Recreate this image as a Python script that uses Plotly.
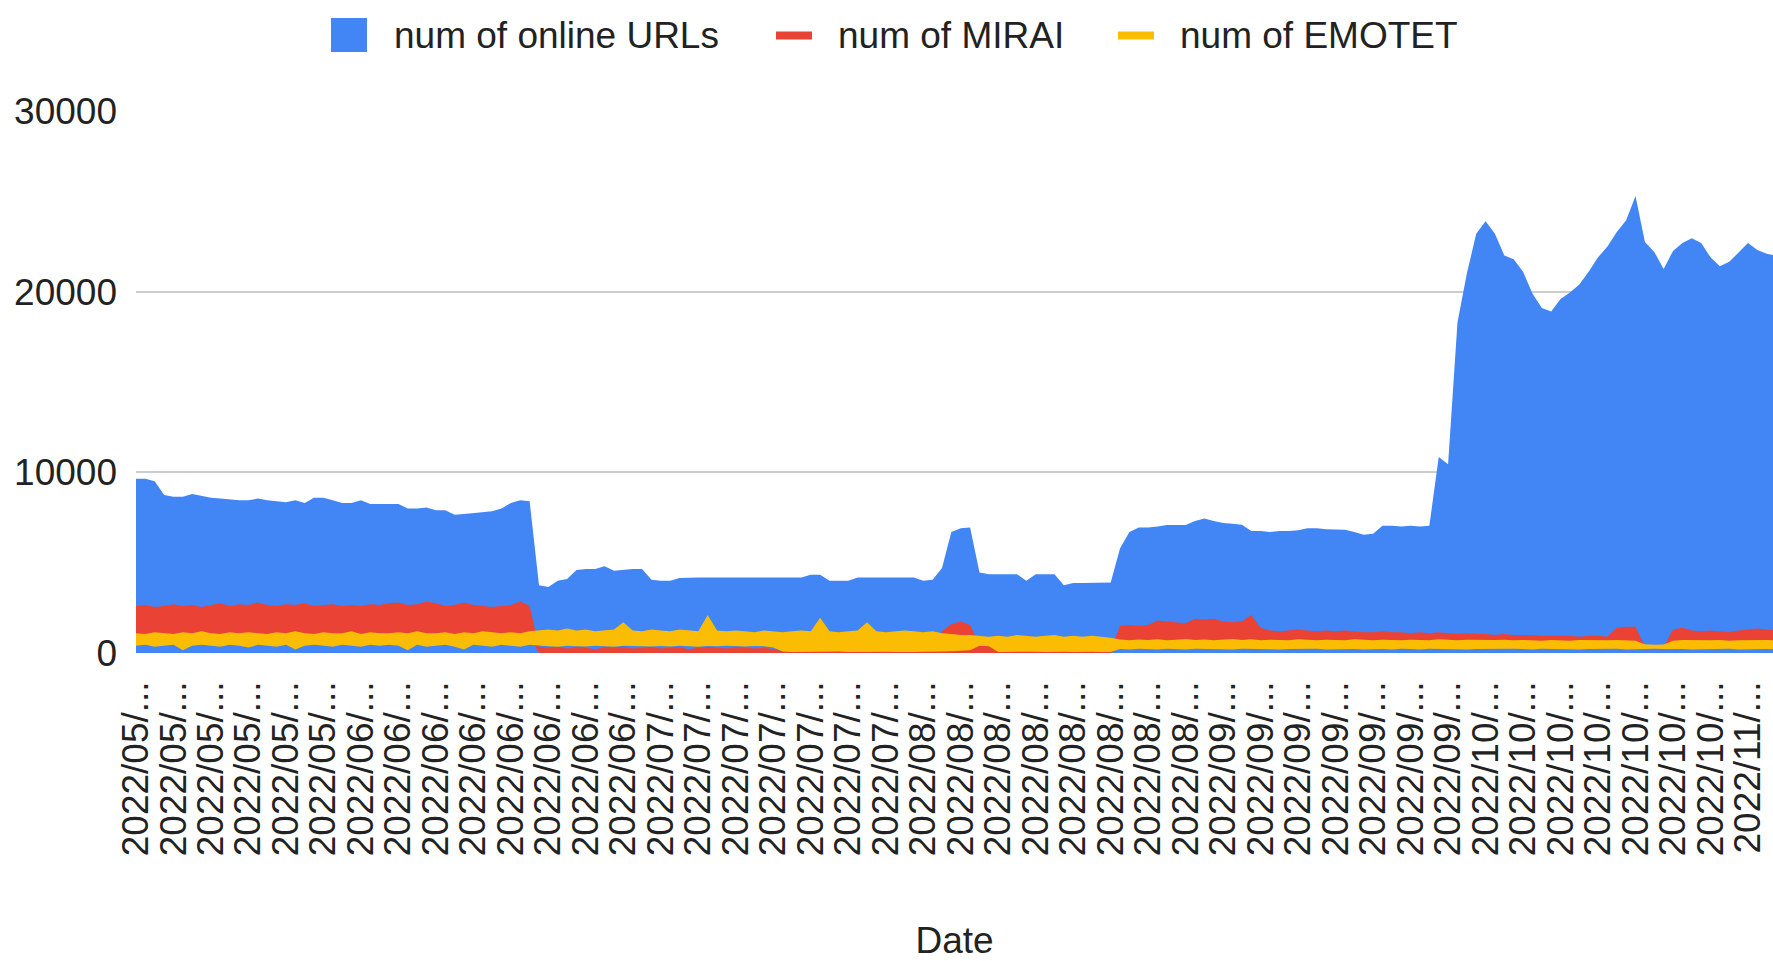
import plotly.graph_objects as go

# ---------------- data ----------------
# x-axis tick labels (one every 4 samples), as truncated in the original
tick_labels = [
    "2022/05/...", "2022/05/...", "2022/05/...", "2022/05/...", "2022/05/...", "2022/05/...",
    "2022/06/...", "2022/06/...", "2022/06/...", "2022/06/...", "2022/06/...", "2022/06/...",
    "2022/06/...", "2022/06/...",
    "2022/07/...", "2022/07/...", "2022/07/...", "2022/07/...", "2022/07/...", "2022/07/...",
    "2022/07/...",
    "2022/08/...", "2022/08/...", "2022/08/...", "2022/08/...", "2022/08/...", "2022/08/...",
    "2022/08/...", "2022/08/...",
    "2022/09/...", "2022/09/...", "2022/09/...", "2022/09/...", "2022/09/...", "2022/09/...",
    "2022/09/...",
    "2022/10/...", "2022/10/...", "2022/10/...", "2022/10/...", "2022/10/...", "2022/10/...",
    "2022/10/...",
    "2022/11/...",
]

online_urls = [
    9650, 9650, 9500, 8750,
    8650, 8650, 8800, 8700,
    8600, 8550, 8500, 8450,
    8450, 8550, 8450, 8400,
    8350, 8450, 8300, 8600,
    8600, 8450, 8300, 8300,
    8450, 8250, 8250, 8250,
    8250, 8000, 8000, 8050,
    7900, 7900, 7650, 7700,
    7750, 7800, 7850, 8000,
    8300, 8450, 8400, 3750,
    3650, 4000, 4100, 4600,
    4650, 4650, 4800, 4550,
    4600, 4650, 4650, 4050,
    4000, 4000, 4150, 4180,
    4180, 4180, 4180, 4180,
    4180, 4180, 4180, 4180,
    4180, 4180, 4180, 4180,
    4330, 4330, 4000, 4000,
    4000, 4180, 4180, 4180,
    4180, 4180, 4180, 4180,
    4000, 4050, 4700, 6700,
    6900, 6950, 4450, 4360,
    4360, 4360, 4360, 4000,
    4360, 4360, 4360, 3750,
    3870, 3870, 3870, 3870,
    3900, 5800, 6700, 6950,
    6950, 7000, 7090, 7090,
    7090, 7300, 7450, 7300,
    7200, 7150, 7100, 6750,
    6750, 6700, 6750, 6750,
    6800, 6900, 6900, 6850,
    6820, 6820, 6700, 6550,
    6600, 7040, 7040, 7000,
    7040, 7000, 7040, 10850,
    10450, 18300, 21000, 23200,
    23900, 23200, 22000, 21800,
    21100, 19900, 19100, 18900,
    19600, 19950, 20400, 21100,
    21900, 22500, 23300, 23950,
    25300, 22750, 22200, 21250,
    22250, 22700, 22950, 22700,
    21900, 21400, 21650, 22200,
    22700, 22300, 22100, 22000,
]

# MIRAI: the line swings quickly, drawn as a band between its low and high values
mirai_high = [
    2600, 2650, 2550, 2600,
    2700, 2600, 2650, 2550,
    2650, 2750, 2600, 2700,
    2650, 2800, 2650, 2600,
    2700, 2650, 2750, 2600,
    2650, 2700, 2600, 2650,
    2600, 2700, 2650, 2750,
    2800, 2650, 2700, 2850,
    2750, 2600, 2650, 2800,
    2650, 2600, 2550, 2600,
    2650, 2850, 2600, 350,
    300, 350, 250, 350,
    300, 200, 350, 300,
    350, 250, 300, 350,
    250, 300, 350, 200,
    300, 350, 300, 250,
    350, 300, 250, 300,
    200, 100, 80, 100,
    80, 100, 80, 120,
    100, 80, 100, 80,
    100, 120, 80, 100,
    100, 150, 1200, 1600,
    1750, 1550, 450, 400,
    150, 100, 120, 100,
    100, 150, 100, 120,
    100, 120, 150, 100,
    200, 1500, 1550, 1500,
    1550, 1800, 1750, 1700,
    1650, 1900, 1850, 1900,
    1750, 1700, 1750, 2100,
    1400, 1250, 1200, 1250,
    1300, 1250, 1200, 1250,
    1200, 1250, 1200, 1150,
    1150, 1200, 1150, 1150,
    1100, 1150, 1100, 1150,
    1100, 1050, 1100, 1050,
    1050, 1000, 1050, 1000,
    1000, 1000, 950, 950,
    950, 950, 900, 950,
    950, 900, 1400, 1450,
    1450, 350, 350, 350,
    1300, 1400, 1250, 1200,
    1250, 1200, 1150, 1250,
    1300, 1350, 1300, 1250,
]

mirai_low = [
    950, 950, 950, 950,
    950, 950, 950, 950,
    950, 950, 950, 950,
    950, 950, 950, 950,
    950, 950, 950, 950,
    950, 950, 950, 950,
    950, 950, 950, 950,
    950, 950, 950, 950,
    950, 950, 950, 950,
    950, 950, 950, 950,
    950, 950, 950, 0,
    0, 0, 0, 0,
    0, 0, 0, 0,
    0, 0, 0, 0,
    0, 0, 0, 0,
    0, 0, 0, 0,
    0, 0, 0, 0,
    0, 0, 0, 0,
    0, 0, 0, 0,
    0, 0, 0, 0,
    0, 0, 0, 0,
    0, 0, 0, 0,
    0, 0, 0, 0,
    0, 0, 0, 0,
    0, 0, 0, 0,
    0, 0, 0, 0,
    0, 300, 300, 300,
    300, 300, 300, 300,
    300, 300, 300, 300,
    300, 300, 300, 300,
    300, 300, 300, 300,
    300, 300, 300, 300,
    300, 300, 300, 300,
    300, 300, 300, 300,
    300, 300, 300, 300,
    300, 300, 300, 300,
    300, 300, 300, 300,
    300, 300, 300, 300,
    300, 300, 300, 300,
    300, 300, 300, 300,
    300, 300, 300, 300,
    300, 300, 300, 300,
    300, 300, 300, 300,
    300, 300, 300, 300,
]

# EMOTET: same idea, band between low and high values
emotet_high = [
    1100, 1050, 1150, 1100,
    1050, 1150, 1100, 1200,
    1100, 1050, 1150, 1100,
    1150, 1100, 1050, 1150,
    1100, 1200, 1100, 1050,
    1150, 1100, 1100, 1200,
    1050, 1150, 1100, 1100,
    1150, 1100, 1200, 1100,
    1100, 1150, 1050, 1150,
    1100, 1200, 1150, 1100,
    1150, 1100, 1200, 1250,
    1300, 1250, 1350, 1250,
    1300, 1200, 1250, 1300,
    1700, 1250, 1200, 1300,
    1250, 1200, 1300, 1250,
    1200, 2100, 1250, 1200,
    1250, 1200, 1150, 1250,
    1200, 1150, 1200, 1250,
    1200, 1950, 1200, 1150,
    1200, 1250, 1700, 1200,
    1150, 1200, 1250, 1200,
    1150, 1200, 1100, 1050,
    1000, 1000, 950, 900,
    950, 900, 1000, 950,
    900, 950, 1000, 900,
    950, 900, 950, 900,
    850, 750, 700, 750,
    720, 760, 700, 740,
    780, 720, 750, 700,
    740, 780, 720, 760,
    700, 740, 720, 700,
    760, 720, 700, 740,
    720, 700, 760, 720,
    700, 740, 720, 700,
    740, 720, 700, 760,
    720, 700, 740, 720,
    700, 720, 740, 700,
    720, 700, 680, 720,
    700, 680, 720, 700,
    680, 700, 720, 700,
    680, 480, 450, 470,
    680, 720, 700, 680,
    700, 720, 680, 700,
    720, 700, 720, 700,
]

emotet_low = [
    400, 450, 350, 400,
    450, 150, 400, 450,
    400, 350, 450, 400,
    300, 450, 400, 350,
    450, 200, 400, 450,
    400, 350, 450, 400,
    350, 450, 400, 450,
    400, 150, 450, 350,
    400, 450, 350, 200,
    450, 400, 350, 450,
    400, 350, 450, 400,
    380, 350, 400, 380,
    360, 400, 380, 350,
    400, 370, 380, 360,
    390, 360, 400, 380,
    350, 390, 370, 400,
    380, 360, 390, 370,
    300, 80, 60, 70,
    60, 70, 60, 80,
    60, 70, 60, 80,
    70, 60, 80, 60,
    70, 60, 80, 100,
    120, 150, 400, 380,
    60, 70, 80, 60,
    70, 60, 80, 70,
    60, 80, 70, 60,
    60, 220, 200, 240,
    220, 200, 240, 220,
    200, 230, 220, 240,
    220, 200, 230, 220,
    240, 220, 200, 220,
    230, 220, 240, 200,
    220, 240, 220, 200,
    230, 220, 200, 240,
    220, 200, 230, 220,
    240, 220, 200, 220,
    230, 200, 220, 240,
    220, 200, 230, 220,
    240, 220, 200, 220,
    230, 220, 240, 200,
    220, 200, 230, 220,
    240, 220, 200, 220,
    230, 220, 240, 200,
    220, 230, 220, 210,
]

series_names = ["num of online URLs", "num of MIRAI", "num of EMOTET"]
y_ticks = [0, 10000, 20000, 30000]

# ---------------- style ----------------
BLUE, RED, YELLOW = "#4285F4", "#EA4335", "#FBBC04"
TEXT = "#222222"
FONT = "Arial, 'Liberation Sans', sans-serif"
FS = 37
W, H = 1773, 961
ML, MR, MT, MB = 136, 0, 111, 307.5
PW, PH = W - ML - MR, H - MT - MB
SAMPLES_PER_LABEL = 4
LAST_LABEL_PX = 1748


def px_x(px):
    return (px - ML) / PW


def px_y(py):
    return (H - MB - py) / PH


x = list(range(len(online_urls)))

fig = go.Figure()
fig.add_trace(go.Scatter(x=x, y=online_urls, mode="lines", fill="tozeroy",
                         fillcolor=BLUE, line=dict(color=BLUE, width=0),
                         name=series_names[0], showlegend=False))
fig.add_trace(go.Scatter(x=x, y=mirai_low, mode="lines", line=dict(color=RED, width=0),
                         showlegend=False, hoverinfo="skip"))
fig.add_trace(go.Scatter(x=x, y=mirai_high, mode="lines", fill="tonexty",
                         fillcolor=RED, line=dict(color=RED, width=0),
                         name=series_names[1], showlegend=False))
fig.add_trace(go.Scatter(x=x, y=emotet_low, mode="lines", line=dict(color=YELLOW, width=0),
                         showlegend=False, hoverinfo="skip"))
fig.add_trace(go.Scatter(x=x, y=emotet_high, mode="lines", fill="tonexty",
                         fillcolor=YELLOW, line=dict(color=YELLOW, width=0),
                         name=series_names[2], showlegend=False))

tick_vals = [i * SAMPLES_PER_LABEL for i in range(len(tick_labels))]
x_end = PW / ((LAST_LABEL_PX - ML) / tick_vals[-1])

# hand-drawn legend (square for the area series, short bars for the line series)
shapes = [
    dict(type="rect", xref="paper", yref="paper",
         x0=px_x(331), x1=px_x(367), y0=px_y(52), y1=px_y(18),
         fillcolor=BLUE, line=dict(width=0)),
    dict(type="rect", xref="paper", yref="paper",
         x0=px_x(776), x1=px_x(812), y0=px_y(39.5), y1=px_y(31.5),
         fillcolor=RED, line=dict(width=0)),
    dict(type="rect", xref="paper", yref="paper",
         x0=px_x(1118), x1=px_x(1154), y0=px_y(39.5), y1=px_y(31.5),
         fillcolor=YELLOW, line=dict(width=0)),
]
annotations = [
    dict(text=series_names[0], xref="paper", yref="paper", x=px_x(392), y=px_y(35),
         xanchor="left", yanchor="middle", showarrow=False,
         font=dict(family=FONT, size=FS, color=TEXT)),
    dict(text=series_names[1], xref="paper", yref="paper", x=px_x(836), y=px_y(35),
         xanchor="left", yanchor="middle", showarrow=False,
         font=dict(family=FONT, size=FS, color=TEXT)),
    dict(text=series_names[2], xref="paper", yref="paper", x=px_x(1178), y=px_y(35),
         xanchor="left", yanchor="middle", showarrow=False,
         font=dict(family=FONT, size=FS, color=TEXT)),
]

fig.update_layout(
    template="none",
    width=W, height=H,
    margin=dict(l=ML, r=MR, t=MT, b=MB, pad=0),
    paper_bgcolor="white", plot_bgcolor="white",
    font=dict(family=FONT, size=FS, color=TEXT),
    showlegend=False,
    shapes=shapes,
    annotations=annotations,
    xaxis=dict(
        range=[0, x_end], tickmode="array", tickvals=tick_vals, ticktext=tick_labels,
        tickangle=-90, tickfont=dict(family=FONT, size=FS, color=TEXT),
        showgrid=False, zeroline=False, showline=False, ticks="",
        ticklabelstandoff=20, ticklabeloverflow="allow", automargin=False,
        title=dict(text="Date", font=dict(family=FONT, size=FS, color=TEXT), standoff=72),
    ),
    yaxis=dict(
        range=[0, 30000], tickmode="array", tickvals=y_ticks, tickformat="d",
        tickfont=dict(family=FONT, size=FS, color=TEXT),
        showgrid=True, gridcolor="#cccccc", gridwidth=2,
        zeroline=False, showline=False, ticks="", ticklabelstandoff=18,
        automargin=False,
    ),
)

fig.write_html("out.html", config={"displayModeBar": False},
               post_script="document.body.style.margin='0';document.body.style.overflow='hidden';")
